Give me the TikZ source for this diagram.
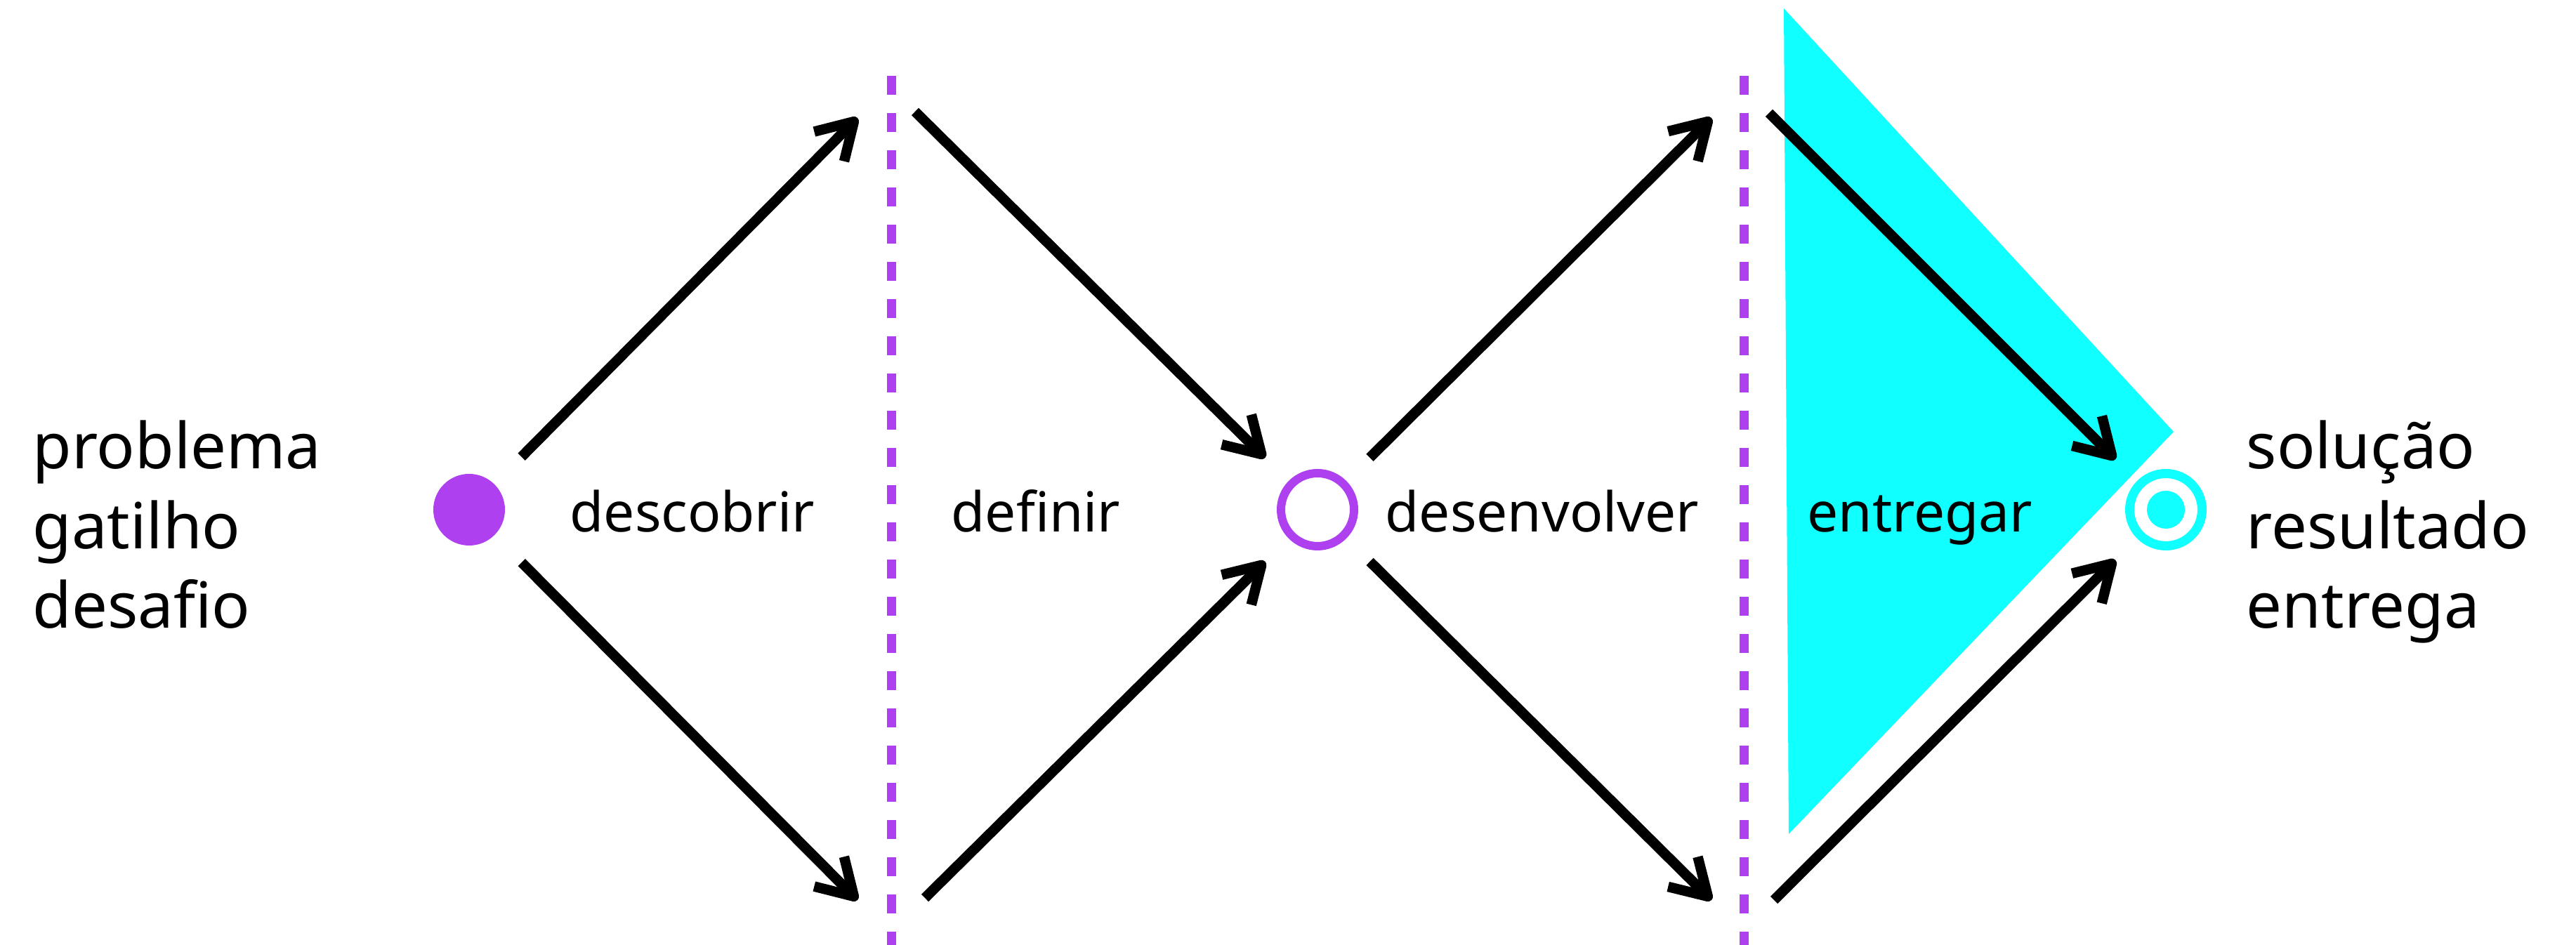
\documentclass[tikz,border=0pt]{standalone}
\usepackage{fontspec}
\setmainfont{Noto Sans}
\usetikzlibrary{arrows.meta,positioning}
\definecolor{violeta}{RGB}{175,64,240}
\definecolor{ciano}{RGB}{16,255,255}

\begin{document}
\begin{tikzpicture}[every node/.style={font=\fontsize{22.3}{26}\selectfont}]
\tikzset{flow/.style={line width=0.145cm, -{Straight Barb[length=0.5cm, width=0.6cm, line join=round]}}}
\tikzset{divider/.style={violeta, line width=0.13cm, dash pattern=on 0.27cm off 0.26cm}}
\tikzset{phase/.style={anchor=base west, inner sep=0}}
\tikzset{side/.style={anchor=base west, inner sep=0, align=left, font=\fontsize{25.7}{32.4}\selectfont}}
\useasboundingbox (0,0) rectangle (36.68,13.46);
\fill[ciano] (25.40,13.34) -- (30.95,7.31) -- (25.47,1.58) -- cycle;
\draw[divider] (12.69,12.38) -- (12.69,0);
\draw[divider] (24.83,12.38) -- (24.83,0);
\node[circle, fill=violeta, minimum size=1.02cm, inner sep=0, outer sep=0.55cm] (start) at (6.68,6.20) {};
\node[circle, draw=violeta, line width=0.12cm, minimum size=1.04cm, inner sep=0, outer sep=0.53cm] (mid) at (18.76,6.20) {};
\node[circle, draw=ciano, line width=0.13cm, minimum size=1.03cm, inner sep=0, outer sep=0.5cm] (goal) at (30.84,6.20) {};
\node[circle, fill=ciano, minimum size=0.54cm, inner sep=0] (goalcore) at (goal) {};
\coordinate (u1l) at (12.21,11.78);
\coordinate (l1l) at (12.21,0.64);
\coordinate (u1r) at (13.03,11.87);
\coordinate (l1r) at (13.17,0.67);
\coordinate (u2l) at (24.37,11.78);
\coordinate (l2l) at (24.37,0.64);
\coordinate (u2r) at (25.19,11.85);
\coordinate (l2r) at (25.26,0.64);
\draw[flow] (start) -- (u1l);
\draw[flow] (start) -- (l1l);
\draw[flow] (u1r) -- (mid);
\draw[flow] (l1r) -- (mid);
\draw[flow] (mid) -- (u2l);
\draw[flow] (mid) -- (l2l);
\draw[flow] (u2r) -- (goal);
\draw[flow] (l2r) -- (goal);
\node[phase] (descobrir) at (8.11,5.88) {descobrir};
\node[phase] (definir) at (13.54,5.88) {definir};
\node[phase] (desenvolver) at (19.72,5.88) {desenvolver};
\node[phase] (entregar) at (25.73,5.88) {entregar};
\node[side] (origem) at (0.46,4.51) {problema\\gatilho\\desafio};
\node[side] (destino) at (31.98,4.51) {solução\\resultado\\entrega};
\end{tikzpicture}
\end{document}
